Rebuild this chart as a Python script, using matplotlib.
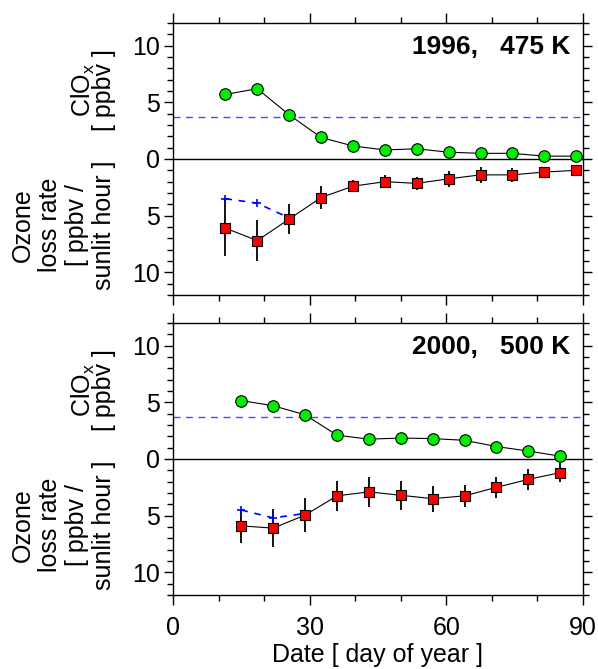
import numpy as np
import matplotlib
matplotlib.use("Agg")
import matplotlib.pyplot as plt
from matplotlib.ticker import MultipleLocator, FixedLocator

plt.rcParams['font.family'] = ['Liberation Sans', 'DejaVu Sans']
plt.rcParams['mathtext.default'] = 'regular'

# ---- data ----
days_1996 = [11.5, 18.5, 25.5, 32.5, 39.5, 46.5, 53.5, 60.5, 67.5, 74.5, 81.5, 88.5]
clox_1996 = [5.7, 6.2, 3.9, 1.9, 1.15, 0.8, 0.9, 0.6, 0.5, 0.5, 0.25, 0.25]
loss_1996 = [6.1, 7.2, 5.3, 3.4, 2.4, 2.0, 2.15, 1.75, 1.4, 1.4, 1.15, 1.0]
err_1996 = [2.5, 1.8, 1.35, 1.0, 0.55, 0.55, 0.55, 0.7, 0.7, 0.6, 0.3, 0.3]
alt_days_1996 = [11.5, 18.5, 25.5]
alt_loss_1996 = [3.5, 3.9, 5.2]

days_2000 = [15, 22, 29, 36, 43, 50, 57, 64, 71, 78, 85]
clox_2000 = [5.15, 4.7, 3.9, 2.1, 1.75, 1.85, 1.8, 1.65, 1.1, 0.7, 0.25]
loss_2000 = [5.9, 6.1, 4.95, 3.25, 2.9, 3.2, 3.5, 3.25, 2.5, 1.8, 1.2]
err_2000 = [1.5, 1.7, 1.5, 1.35, 1.3, 1.3, 1.15, 1.0, 0.9, 0.95, 0.85]
alt_days_2000 = [15, 22, 29]
alt_loss_2000 = [4.5, 5.2, 4.8]

clox_threshold = 3.7

panels = [
    ("1996,   475 K", days_1996, clox_1996, loss_1996, err_1996, alt_days_1996, alt_loss_1996),
    ("2000,   500 K", days_2000, clox_2000, loss_2000, err_2000, alt_days_2000, alt_loss_2000),
]

W, H = 598, 669
fig = plt.figure(figsize=(W / 100, H / 100), dpi=100)

FS = 18
axes_px = [(173, 23, 583, 295), (173, 323, 583, 595)]

for i, (title, d, c, l, e, ad, al) in enumerate(panels):
    x0, y0, x1, y1 = axes_px[i]
    ax = fig.add_axes([x0 / W, 1 - y1 / H, (x1 - x0) / W, (y1 - y0) / H])
    ax.set_xlim(0, 90)
    ax.set_ylim(-12, 12)

    ax.axhline(0, color='black', lw=1.0, zorder=1)
    ax.axhline(clox_threshold, color='#4a4aff', lw=1.0, ls=(0, (5, 4)), zorder=1)

    neg_loss = [-v for v in l]
    ax.errorbar(d, neg_loss, yerr=e, fmt='none', ecolor='black', elinewidth=1.3, capsize=0, zorder=2)
    ax.plot(ad, [-v for v in al], color='blue', lw=1.2, ls=(0, (4, 4)), marker='+',
            markersize=6, markeredgewidth=1.2, zorder=3)
    ax.plot(d, c, color='black', lw=0.8, marker='o', markersize=8.3,
            markerfacecolor='#00ee00', markeredgecolor='black', markeredgewidth=0.8, zorder=4)
    ax.plot(d, neg_loss, color='black', lw=0.8, marker='s', markersize=7.5,
            markerfacecolor='#ff0000', markeredgecolor='black', markeredgewidth=0.8, zorder=4)

    ax.text(0.968, 0.91, title, transform=ax.transAxes, ha='right', va='center',
            fontsize=FS + 1, fontweight='bold')

    # y ticks
    ax.yaxis.set_major_locator(FixedLocator([-10, -5, 0, 5, 10]))
    ax.set_yticklabels(['10', '5', '0', '5', '10'], fontsize=FS)
    ax.yaxis.set_minor_locator(MultipleLocator(1))
    ax.tick_params(axis='y', which='both', direction='out', left=True, right=True, width=1.0)
    ax.tick_params(axis='y', which='major', length=6.5, pad=3)
    ax.tick_params(axis='y', which='minor', length=4.3)

    # x ticks
    ax.xaxis.set_major_locator(MultipleLocator(30))
    ax.xaxis.set_minor_locator(MultipleLocator(10))
    ax.tick_params(axis='x', which='both', direction='out', top=True, bottom=True, width=1.0)
    ax.tick_params(axis='x', which='major', length=7, pad=8, labelsize=FS)
    ax.tick_params(axis='x', which='minor', length=4.3)
    if i == 0:
        ax.tick_params(axis='x', labelbottom=False)
    else:
        ax.set_xlabel('Date [ day of year ]', fontsize=FS, labelpad=2)

    for sp in ax.spines.values():
        sp.set_linewidth(1.0)

    lx = (116 - 173) / 410
    ax.text(lx, 0.754, 'ClO$_x$\n[ ppbv ]', transform=ax.transAxes, rotation=90,
            ha='right', va='center', multialignment='center', fontsize=FS, linespacing=0.75)
    ax.text(lx, 0.257, 'Ozone\nloss rate\n[ ppbv /\nsunlit hour ]', transform=ax.transAxes,
            rotation=90, ha='right', va='center', multialignment='center', fontsize=FS,
            linespacing=1.16)

fig.savefig('out.png', dpi=100)
